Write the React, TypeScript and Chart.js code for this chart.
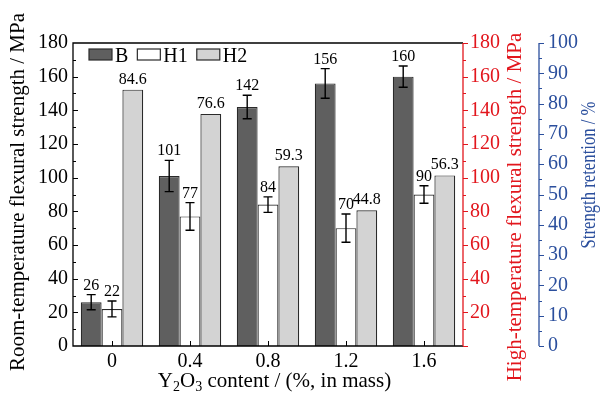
import React, { useEffect, useRef } from 'react';
import { Chart, registerables } from 'chart.js';

Chart.register(...registerables);

// ---- data ----
const categories = ['0', '0.4', '0.8', '1.2', '1.6'];
const roomTemp = [26, 101, 142, 156, 160];
const roomTempErr = [4.5, 9.3, 7, 8.8, 6.3];
const highTemp = [22, 77, 84, 70, 90];
const highTempErr = [4.7, 8.2, 4.6, 8.4, 5.2];
const retention = [84.6, 76.6, 59.3, 44.8, 56.3];
const seriesNames = ['B', 'H1', 'H2'];
const roomLabels = ['26', '101', '142', '156', '160'];
const highLabels = ['22', '77', '84', '70', '90'];
const retentionLabels = ['84.6', '76.6', '59.3', '44.8', '56.3'];

const FAMILY = 'Liberation Serif';
const FONT = `"Liberation Serif", serif`;
const RED = '#e2161d';
const BLUE = '#2b4f9d';
const EDGE = '#2a2a2a';
const FILLS = ['#5f5f5f', '#ffffff', '#d3d3d3'];

Chart.defaults.font.family = FAMILY;

const decorPlugin = {
  id: 'decor',
  afterDatasetsDraw(chart: any) {
    const ctx = chart.ctx;
    const { left, right, top, bottom } = chart.chartArea;
    const sy = chart.scales.y;
    const sy1 = chart.scales.y1;
    const sy2 = chart.scales.y2;
    const sx = chart.scales.x;
    ctx.save();

    // error bars + labels
    const drawErr = (ds: number, vals: number[], errs: number[], labels: string[], scale: any) => {
      const meta = chart.getDatasetMeta(ds);
      meta.data.forEach((el: any, i: number) => {
        const cx = el.x;
        const yt = scale.getPixelForValue(vals[i] + errs[i]);
        const yb = scale.getPixelForValue(vals[i] - errs[i]);
        ctx.strokeStyle = '#000';
        ctx.lineWidth = 1.4;
        ctx.beginPath();
        ctx.moveTo(cx, yt);
        ctx.lineTo(cx, yb);
        ctx.moveTo(cx - 4.5, yt);
        ctx.lineTo(cx + 4.5, yt);
        ctx.moveTo(cx - 4.5, yb);
        ctx.lineTo(cx + 4.5, yb);
        ctx.stroke();
        ctx.fillStyle = '#000';
        ctx.font = `16px ${FONT}`;
        ctx.textAlign = 'center';
        ctx.textBaseline = 'alphabetic';
        ctx.fillText(labels[i], cx, yt - 5);
      });
    };
    drawErr(0, roomTemp, roomTempErr, roomLabels, sy);
    drawErr(1, highTemp, highTempErr, highLabels, sy1);
    const meta2 = chart.getDatasetMeta(2);
    meta2.data.forEach((el: any, i: number) => {
      ctx.fillStyle = '#000';
      ctx.font = `16px ${FONT}`;
      ctx.textAlign = 'center';
      ctx.textBaseline = 'alphabetic';
      ctx.fillText(retentionLabels[i], el.x, sy2.getPixelForValue(retention[i]) - 6);
    });

    // frame
    ctx.lineWidth = 1.3;
    ctx.strokeStyle = '#000';
    ctx.beginPath();
    ctx.moveTo(right, top);
    ctx.lineTo(left, top);
    ctx.lineTo(left, bottom);
    ctx.lineTo(right, bottom);
    ctx.stroke();
    // left ticks (inward)
    ctx.lineWidth = 1;
    ctx.beginPath();
    for (let v = 10; v < 180; v += 10) {
      const py = Math.round(sy.getPixelForValue(v)) + 0.5;
      const len = v % 20 === 0 ? 5 : 3;
      ctx.moveTo(left, py);
      ctx.lineTo(left + len, py);
    }
    // bottom ticks (inward)
    categories.forEach((_, i) => {
      const px = Math.round(sx.getPixelForValue(i)) + 0.5;
      ctx.moveTo(px, bottom);
      ctx.lineTo(px, bottom - 5);
    });
    ctx.stroke();

    // red axis
    ctx.strokeStyle = RED;
    ctx.lineWidth = 1.3;
    ctx.beginPath();
    ctx.moveTo(right, top);
    ctx.lineTo(right, bottom);
    ctx.stroke();
    ctx.lineWidth = 1;
    ctx.beginPath();
    for (let v = 0; v <= 180; v += 10) {
      const py = Math.round(sy1.getPixelForValue(v)) + 0.5;
      const len = v % 20 === 0 ? 5 : 3;
      ctx.moveTo(right, py);
      ctx.lineTo(right + len, py);
    }
    ctx.stroke();

    // blue axis
    const bx = sy2.left;
    ctx.strokeStyle = BLUE;
    ctx.lineWidth = 1.3;
    ctx.beginPath();
    ctx.moveTo(bx, top);
    ctx.lineTo(bx, bottom);
    ctx.stroke();
    ctx.lineWidth = 1;
    ctx.beginPath();
    for (let v = 0; v <= 100; v += 5) {
      const py = Math.round(sy2.getPixelForValue(v)) + 0.5;
      const len = v % 10 === 0 ? 5 : 3;
      ctx.moveTo(bx, py);
      ctx.lineTo(bx + len, py);
    }
    ctx.stroke();

    // legend
    let lx = left + 16;
    const ly = top + 6;
    ctx.font = `20px ${FONT}`;
    ctx.textAlign = 'left';
    ctx.textBaseline = 'alphabetic';
    seriesNames.forEach((name, i) => {
      ctx.fillStyle = FILLS[i];
      ctx.fillRect(lx, ly, 23, 11);
      ctx.strokeStyle = EDGE;
      ctx.lineWidth = 1.2;
      ctx.strokeRect(lx, ly, 23, 11);
      ctx.fillStyle = '#000';
      ctx.fillText(name, lx + 26, ly + 13);
      lx += 26 + ctx.measureText(name).width + 9;
    });

    // axis titles
    const vtitle = (text: string, x: number, cy: number, size: number, color: string, maxW?: number) => {
      ctx.save();
      ctx.translate(x, cy);
      ctx.rotate(-Math.PI / 2);
      ctx.font = `${size}px ${FONT}`;
      ctx.fillStyle = color;
      ctx.textAlign = 'center';
      ctx.textBaseline = 'alphabetic';
      if (maxW) ctx.fillText(text, 0, 0, maxW);
      else ctx.fillText(text, 0, 0);
      ctx.restore();
    };
    vtitle('Room-temperature flexural strength / MPa', 24, 192, 21, '#000');
    vtitle('High-temperature flexural strength / MPa', 521, 207, 21, RED);
    vtitle('Strength retention / %', 595, 175, 20, BLUE, 147);

    // x title with subscripts
    const parts = [
      { t: 'Y', sub: false },
      { t: '2', sub: true },
      { t: 'O', sub: false },
      { t: '3', sub: true },
      { t: ' content / (%, in mass)', sub: false },
    ];
    let total = 0;
    parts.forEach((p) => {
      ctx.font = `${p.sub ? 14 : 21}px ${FONT}`;
      total += ctx.measureText(p.t).width;
    });
    let tx = 274.5 - total / 2;
    const base = 387;
    ctx.fillStyle = '#000';
    ctx.textAlign = 'left';
    parts.forEach((p) => {
      ctx.font = `${p.sub ? 14 : 21}px ${FONT}`;
      ctx.fillText(p.t, tx, p.sub ? base + 4 : base);
      tx += ctx.measureText(p.t).width;
    });

    ctx.restore();
  },
};

export default function App() {
  const ref = useRef<HTMLCanvasElement | null>(null);
  useEffect(() => {
    if (!ref.current) return;
    const tickFont = { family: FAMILY, size: 20 };
    const chart = new Chart(ref.current, {
      type: 'bar',
      data: {
        labels: categories,
        datasets: [
          {
            label: seriesNames[0],
            data: roomTemp,
            yAxisID: 'y',
            backgroundColor: FILLS[0],
            borderColor: EDGE,
            borderWidth: 1.2,
          },
          {
            label: seriesNames[1],
            data: highTemp,
            yAxisID: 'y1',
            backgroundColor: FILLS[1],
            borderColor: EDGE,
            borderWidth: 1.2,
          },
          {
            label: seriesNames[2],
            data: retention,
            yAxisID: 'y2',
            backgroundColor: FILLS[2],
            borderColor: EDGE,
            borderWidth: 1.2,
          },
        ],
      },
      options: {
        responsive: false,
        animation: false,
        font: { family: FAMILY },
        layout: { padding: { top: 43, left: 0, right: 0, bottom: 0 } },
        datasets: { bar: { categoryPercentage: 0.8, barPercentage: 1 } },
        plugins: { legend: { display: false }, tooltip: { enabled: false } },
        scales: {
          x: {
            grid: { display: false, drawTicks: false },
            border: { display: false },
            ticks: { font: tickFont, color: '#000', padding: 4, maxRotation: 0 },
            afterFit: (s: any) => {
              s.height = 48;
            },
          },
          y: {
            position: 'left',
            min: 0,
            max: 180,
            grid: { display: false, drawTicks: false },
            border: { display: false },
            ticks: { stepSize: 20, font: tickFont, color: '#000', padding: 5 },
            afterFit: (s: any) => {
              s.width = 73;
            },
          },
          y1: {
            position: 'right',
            min: 0,
            max: 180,
            grid: { display: false, drawTicks: false },
            border: { display: false },
            ticks: {
              stepSize: 20,
              font: tickFont,
              color: RED,
              padding: 7,
              callback: (v: any) => (v === 0 ? '' : String(v)),
            },
            afterFit: (s: any) => {
              s.width = 76;
            },
          },
          y2: {
            position: 'right',
            min: 0,
            max: 100,
            grid: { display: false, drawTicks: false },
            border: { display: false },
            ticks: { stepSize: 10, font: tickFont, color: BLUE, padding: 9 },
            afterFit: (s: any) => {
              s.width = 61;
            },
          },
        },
      } as any,
      plugins: [decorPlugin],
    });
    return () => chart.destroy();
  }, []);
  return (
    <div style={{ position: 'fixed', left: 0, top: 0, width: 600, height: 394, background: '#fff' }}>
      <canvas ref={ref} width={600} height={394} style={{ display: 'block' }} />
    </div>
  );
}
